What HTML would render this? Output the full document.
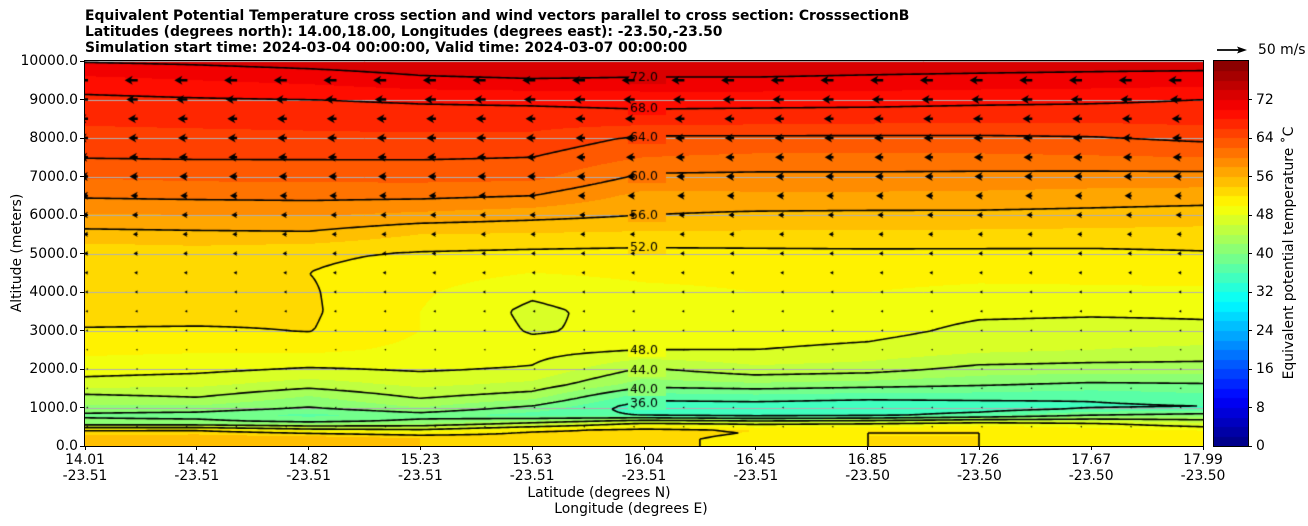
<!DOCTYPE html>
<html><head><meta charset="utf-8">
<style>
body{margin:0;background:#fff;width:1308px;height:526px;position:relative;overflow:hidden;font-family:"DejaVu Sans","Liberation Sans",sans-serif;color:#000}
.t{position:absolute;font-size:13.9px;white-space:nowrap}
.b{font-weight:bold}
canvas{position:absolute}
</style></head><body>
<div class="t b" style="left:85px;top:8px">Equivalent Potential Temperature cross section and wind vectors parallel to cross section: CrosssectionB</div>
<div class="t b" style="left:85px;top:24px">Latitudes (degrees north): 14.00,18.00, Longitudes (degrees east): -23.50,-23.50</div>
<div class="t b" style="left:85px;top:40px">Simulation start time: 2024-03-04 00:00:00, Valid time: 2024-03-07 00:00:00</div>
<canvas id="cv" width="1118" height="385" style="left:85px;top:61px"></canvas>
<div style="position:absolute;left:84px;top:60px;width:1118px;height:385px;border:1px solid #000"></div>
<canvas id="cb" width="34" height="385" style="left:1214px;top:61px"></canvas>
<div style="position:absolute;left:1213px;top:60px;width:34px;height:385px;border:1px solid #000"></div>
<div id="axes"></div>
<div class="t" style="left:17px;top:253px;transform:translate(-50%,-50%) rotate(-90deg)">Altitude (meters)</div>
<div class="t" style="left:599px;top:485px;transform:translateX(-50%)">Latitude (degrees N)</div>
<div class="t" style="left:631px;top:501px;transform:translateX(-50%)">Longitude (degrees E)</div>
<div class="t" style="left:1289px;top:253px;transform:translate(-50%,-50%) rotate(-90deg)">Equivalent potential temperature ˚C</div>
<svg style="position:absolute;left:1210px;top:42px" width="45" height="16"><path d="M7,8 L30,8" stroke="#000" stroke-width="1.8"/><path d="M37,8 L27,4.5 L29,8 L27,11.5Z" fill="#000"/></svg>
<div class="t" style="left:1258px;top:42px">50 m/s</div>
<script>
// ---- data ----
const alts=[0,200,400,600,800,1000,1300,1600,2000,2500,3000,3500,4000,4500,5000,5500,6000,6500,7000,7500,8000,8500,9000,9500,10000];
const lats=[14.01,14.42,14.82,15.23,15.63,16.04,16.45,16.85,17.26,17.67,17.99];
const col0=[55,55,52.5,41,39.5,41.5,43.5,47,49,50.5,51.8,53,53.2,53,52.6,55.3,57.8,60.3,62.2,64.1,65.3,66.4,67.5,69.4,72.2];
const col1=[55.5,55.5,52.5,41,39,41.5,44.3,46.5,48.6,50.3,51.7,53,53.3,53.3,53,55.5,58,60.5,62.5,64.2,65.4,66.6,67.8,70,72.5];
const col2=[56,55.5,50,40,37.5,40,42,45,47.8,50.5,52.1,52.3,52.2,52,52.4,55.6,58.2,60.6,62.6,64.2,65.5,66.8,68,70.5,73];
const col3=[54,54,49,41,39,42,44.5,46.5,48.3,49.5,50,50,50.3,51,51.8,54,57.5,60.5,62.7,64.2,65.6,67,68.3,71.5,73.5];
const col4=[53,53,52,44,37,39.5,43,45.5,47.8,48.8,47.8,47.5,48.4,50,51.5,53.8,56.8,60,62.6,64,65.5,67,68.5,71.8,74];
const col5=[52.5,52.5,53,48,36,34.5,37,41,43.7,48.1,48.6,49,49.5,50.5,51.3,53.6,56,57.4,59.6,62,63.6,67.2,68.8,71.7,73.5];
const col6=[51.5,51.5,52,47,35,34.5,37.5,41.6,45.5,48,49,49.5,50,50.6,51.4,53.6,55.6,57.6,59.5,61.6,63.6,67,68.8,71.7,73.5];
const col7=[52,52,52,47.5,35.5,34,37,41,45,47.5,48.7,49,50,50.6,51.5,53.6,55.5,57.6,59.5,61.6,63.6,66.8,68.8,71.5,73.3];
const col8=[52,52,52,49,37,34.5,37,40.3,43.3,46.5,47.5,48.4,49.6,50.5,51.5,53.5,55.5,57.5,59.4,61.6,63.6,66.6,68.6,71.3,73.2];
const col9=[51,51,51,48,40,35.5,36.5,39.6,43,46,47.3,48.3,49.7,50.5,51.5,53.4,55.3,57.2,59.3,61.8,63.8,66.6,68.4,71.2,73];
const col10=[51,51,50,46,41,35.8,37.5,39.8,43,45.5,47.6,48.3,49.8,50.5,51.8,53.3,55,57,59.3,62,64.5,66.8,68,71,73];
const cols=[col0,col1,col2,col3,col4,col5,col6,col7,col8,col9,col10];
const contourLevels=[32,36,40,44,48,52,56,60,64,68,72];
const arrowAlts=[500,1000,1500,2000,2500,3000,3500,4000,4500,5000,5500,6000,6500,7000,7500,8000,8500,9000,9500];
const arrowSpeeds=[1,1,1.5,2,3,3.5,4,4.5,5.5,6.5,7.5,9,11,12.5,13.5,14.5,15,17.5,20];
const yTicks=[0,1000,2000,3000,4000,5000,6000,7000,8000,9000,10000];
const latLabels=["14.01","14.42","14.82","15.23","15.63","16.04","16.45","16.85","17.26","17.67","17.99"];
const lonLabels=["-23.51","-23.51","-23.51","-23.51","-23.51","-23.51","-23.51","-23.50","-23.50","-23.50","-23.50"];
const cbTicks=[0,8,16,24,32,40,48,56,64,72];
const vmin=0,vmax=80,step=2;

// ---- scales ----
const W=1118,H=385,X0=85,Y0=61;
function xs(i){return i/(lats.length-1)*W;}
function ys(a){return H-a/10000*H;}
function jet(x){const c=v=>Math.round(255*Math.max(0,Math.min(1,v)));
 return [c(1.5-Math.abs(4*x-3)),c(1.5-Math.abs(4*x-2)),c(1.5-Math.abs(4*x-1))];}
function bandColor(v){let k=Math.floor((v-vmin)/step);k=Math.max(0,Math.min((vmax-vmin)/step-1,k));
 return jet((k+0.5)/((vmax-vmin)/step));}
function val(px,py){
 let cf=px/W*(lats.length-1);let i=Math.min(lats.length-2,Math.max(0,Math.floor(cf)));let t=cf-i;
 let a=(H-py)/H*10000;a=Math.max(0,Math.min(10000,a));
 let j=0;while(j<alts.length-2&&alts[j+1]<a)j++;
 let s=(a-alts[j])/(alts[j+1]-alts[j]);
 const A=cols[i],B=cols[i+1];
 return (A[j]*(1-t)+B[j]*t)*(1-s)+(A[j+1]*(1-t)+B[j+1]*t)*s;}

// ---- fill ----
const cv=document.getElementById('cv'),ctx=cv.getContext('2d');
const img=ctx.createImageData(W,H);
for(let py=0;py<H;py++)for(let px=0;px<W;px++){
 const c=bandColor(val(px+0.5,py+0.5));const o=(py*W+px)*4;
 img.data[o]=c[0];img.data[o+1]=c[1];img.data[o+2]=c[2];img.data[o+3]=255;}
ctx.putImageData(img,0,0);
ctx.strokeStyle='#b0b0b0';ctx.lineWidth=1;
yTicks.forEach(a=>{const y=Math.round(ys(a))+0.5;ctx.beginPath();ctx.moveTo(0,y);ctx.lineTo(W,y);ctx.stroke();});
// contours
const g=3,nx=Math.ceil(W/g)+1,ny=Math.ceil(H/g)+1;const V=[];
for(let b=0;b<ny;b++){V.push([]);for(let a=0;a<nx;a++)V[b].push(val(Math.min(W,a*g),Math.min(H,b*g)));}
ctx.strokeStyle='#000';ctx.lineWidth=1.6;ctx.beginPath();
contourLevels.forEach(L=>{
 for(let b=0;b<ny-1;b++)for(let a=0;a<nx-1;a++){
  const v0=V[b][a],v1=V[b][a+1],v2=V[b+1][a+1],v3=V[b+1][a];
  const x=a*g,y=b*g;const pts=[];
  const e=(va,vb,xa,ya,xb,yb)=>{const t=(L-va)/(vb-va);pts.push([xa+(xb-xa)*t,ya+(yb-ya)*t]);};
  if((v0<L)!=(v1<L))e(v0,v1,x,y,x+g,y);
  if((v1<L)!=(v2<L))e(v1,v2,x+g,y,x+g,y+g);
  if((v2<L)!=(v3<L))e(v2,v3,x+g,y+g,x,y+g);
  if((v3<L)!=(v0<L))e(v3,v0,x,y+g,x,y);
  for(let k=0;k+1<pts.length;k+=2){ctx.moveTo(pts[k][0],pts[k][1]);ctx.lineTo(pts[k+1][0],pts[k+1][1]);}
 }});
ctx.stroke();
ctx.font='12.5px "DejaVu Sans", sans-serif';ctx.textBaseline='middle';
const lx=545;
contourLevels.forEach(L=>{
 for(let py=1;py<H;py++){const a=val(lx,py-1),b=val(lx,py);
  if((a<L)!=(b<L)){const c=bandColor(L+0.5);ctx.fillStyle='rgb('+c.join(',')+')';
   ctx.fillRect(lx-2,py-6,38,12);ctx.fillStyle='#000';ctx.fillText(L.toFixed(1),lx,py);break;}}});
// wind arrows
ctx.fillStyle='#000';
arrowAlts.forEach((a,r)=>{
 const y=ys(a),sp=arrowSpeeds[r],Lp=sp*0.65;
 for(let k=0;k<23;k++){
  const x=3+k*49.7;
  let hl=8,hw=4.6,sw=1.2;
  if(Lp<hl){const f=Math.max(Lp,1.8)/hl;hl*=f;hw*=f;sw*=f;}
  const tip=x-Math.max(Lp,hl);
  ctx.beginPath();ctx.moveTo(x,y-sw);ctx.lineTo(tip+hl*0.8,y-sw);ctx.lineTo(tip+hl,y-hw);ctx.lineTo(tip,y);
  ctx.lineTo(tip+hl,y+hw);ctx.lineTo(tip+hl*0.8,y+sw);ctx.lineTo(x,y+sw);ctx.closePath();ctx.fill();}
});
// colorbar
const cb=document.getElementById('cb'),cbx=cb.getContext('2d');
const nb=(vmax-vmin)/step;
for(let k=0;k<nb;k++){const c=jet((k+0.5)/nb);cbx.fillStyle='rgb('+c.join(',')+')';
 const y1=H-(k+1)/nb*H,y0=H-k/nb*H;cbx.fillRect(0,Math.floor(y1),34,Math.ceil(y0-Math.floor(y1)));}
// axes
const ax=document.getElementById('axes');
function add(html,name){const d=document.createElement('div');d.innerHTML=html;const el=d.firstChild;
 
 
 ax.appendChild(el);}
yTicks.forEach(a=>{const y=Y0+ys(a);
 add('<div style="position:absolute;left:80px;top:'+(y-0.5)+'px;width:4px;height:1px;background:#000"></div>','y-tick-mark');
 add('<div class="t" style="right:'+(1308-78)+'px;top:'+(y-8)+'px">'+a.toFixed(1)+'</div>','y-tick-label');});
latLabels.forEach((l,i)=>{const x=X0+xs(i);
 add('<div style="position:absolute;left:'+(x-0.5)+'px;top:446px;width:1px;height:4px;background:#000"></div>','x-tick-mark');
 add('<div class="t" style="left:'+x+'px;top:452px;transform:translateX(-50%);text-align:center;line-height:16px">'+l+'<br>'+lonLabels[i]+'</div>','x-tick-label');});
cbTicks.forEach(v=>{const y=Y0+H-(v-vmin)/(vmax-vmin)*H;
 add('<div style="position:absolute;left:1248px;top:'+(y-0.5)+'px;width:4px;height:1px;background:#000"></div>','colorbar-tick-mark');
 add('<div class="t" style="left:1256px;top:'+(y-8)+'px">'+v+'</div>','colorbar-tick-label');});
</script>
</body></html>
